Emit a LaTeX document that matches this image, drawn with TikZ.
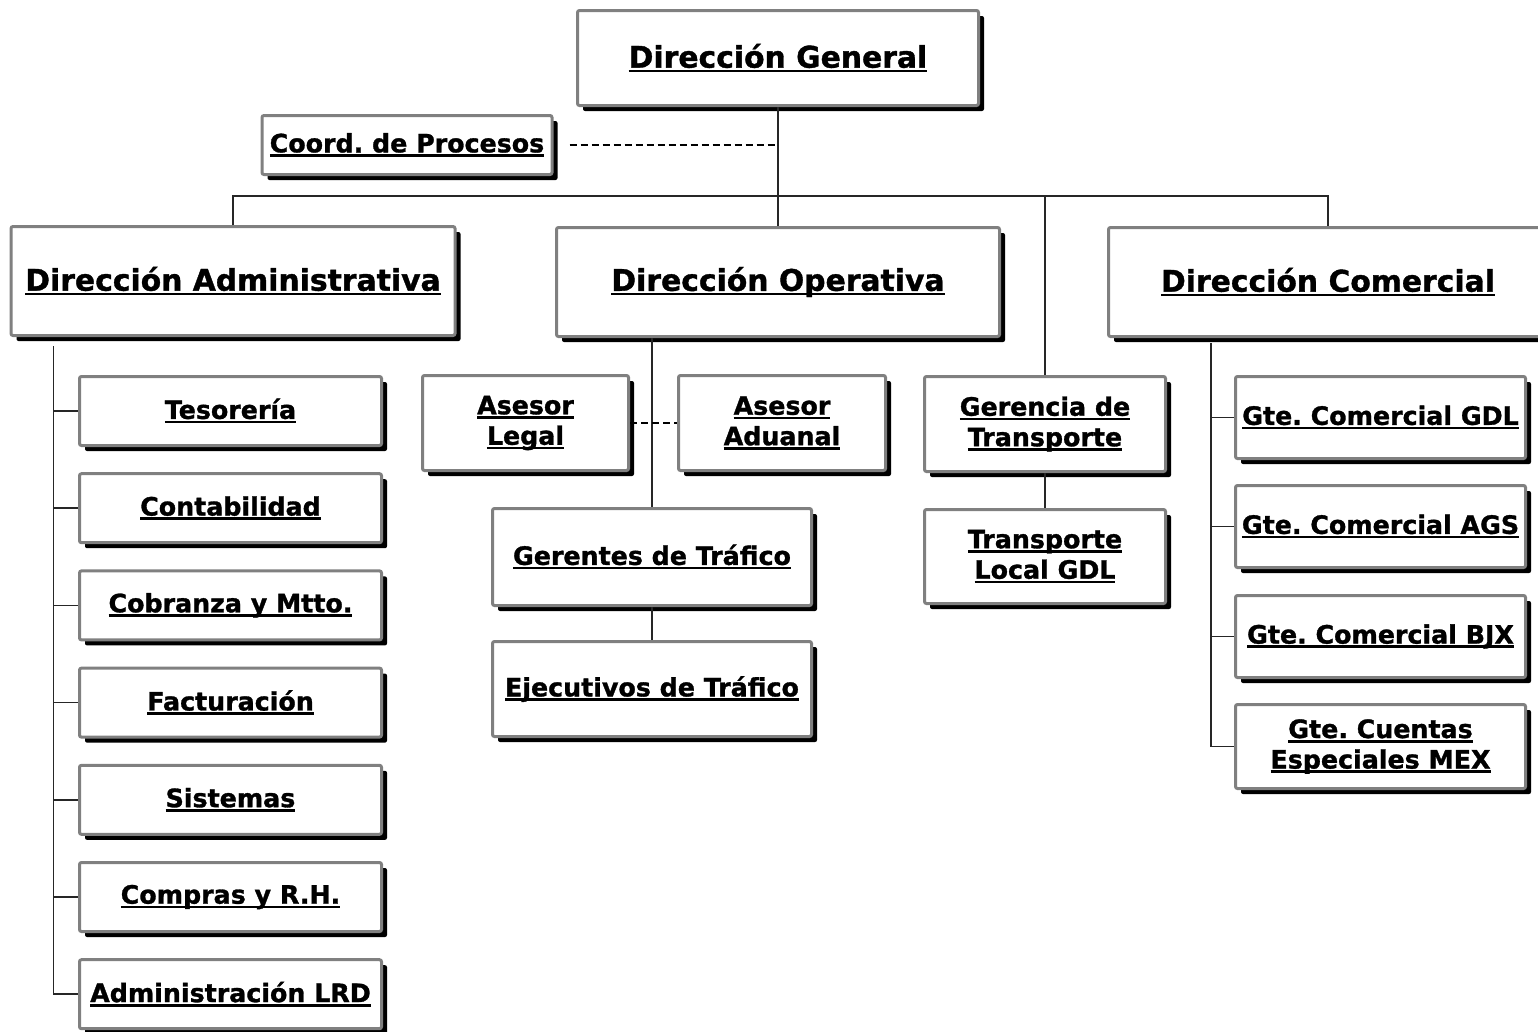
\documentclass[tikz,border=0pt]{standalone}
\usepackage{fontspec}
\setmainfont{DejaVu Sans}[BoldFeatures={FakeBold=1.2}]
\usetikzlibrary{shadows,positioning}

\definecolor{borde}{RGB}{128,128,128}
\newcommand{\rayado}[1]{\setbox0\hbox{#1}\rlap{\rule[-4.5pt]{\wd0}{2.6pt}}\box0}

\tikzset{
  caja/.style={draw=borde, line width=3pt, fill=white, rounded corners=2pt,
    align=center, inner sep=0pt, font=\bfseries\fontsize{25.3}{30.5}\selectfont,
    drop shadow={shadow xshift=5.5pt, shadow yshift=-5.5pt, fill=black, opacity=1}},
  grande/.style={caja, font=\bfseries\fontsize{29.8}{35}\selectfont},
  linea/.style={draw=black!85, line width=1.5pt},
  guion/.style={draw=black, line width=2pt, dash pattern=on 7pt off 4pt}
}

\begin{document}
\frenchspacing
\begin{tikzpicture}[x=1pt, y=-1pt]
  \useasboundingbox (0,0) rectangle (1538,1031);

  \node[grande, minimum width=401pt, minimum height=95pt] (DG) at (778,58) {\rayado{Dirección General}};
  \node[caja, minimum width=290pt, minimum height=59pt] (CP) at (407,145) {\rayado{Coord. de Procesos}};

  \node[grande, minimum width=444pt, minimum height=109pt] (DA) at (233,281) {\rayado{Dirección Administrativa}};
  \node[grande, minimum width=443pt, minimum height=109pt] (DO) at (778,282) {\rayado{Dirección Operativa}};
  \node[grande, minimum width=439pt, minimum height=109pt] (DC) at (1328,282) {\rayado{Dirección Comercial}};

  % administracion
  \foreach \t [count=\i] in {Tesorería, Contabilidad, Cobranza y Mtto., Facturación, Sistemas, Compras y R.H., Administración LRD} {
    \pgfmathsetmacro{\yy}{411+(\i-1)*97.2}
    \node[caja, minimum width=302pt, minimum height=69pt] (A\i) at (230.5,\yy) {\rayado{\t}};
  }

  % operativa
  \node[caja, minimum width=206pt, minimum height=95pt] (AL) at (525.5,423) {\rayado{Asesor}\\\rayado{Legal}};
  \node[caja, minimum width=207pt, minimum height=95pt] (AA) at (782,423) {\rayado{Asesor}\\\rayado{Aduanal}};
  \node[caja, minimum width=319pt, minimum height=97pt] (GR) at (652,557) {\rayado{Gerentes de Tráfico}};
  \node[caja, minimum width=319pt, minimum height=95pt] (EJ) at (652,689) {\rayado{Ejecutivos de Tráfico}};
  \node[caja, minimum width=241pt, minimum height=95pt] (GT) at (1045,424) {\rayado{Gerencia de}\\\rayado{Transporte}};
  \node[caja, minimum width=241pt, minimum height=94pt] (TL) at (1045,556.5) {\rayado{Transporte}\\\rayado{Local GDL}};

  % comercial
  \node[caja, minimum width=290pt, minimum height=82pt] (C1) at (1380.5,417.5) {\rayado{Gte. Comercial GDL}};
  \node[caja, minimum width=290pt, minimum height=82pt] (C2) at (1380.5,526.5) {\rayado{Gte. Comercial AGS}};
  \node[caja, minimum width=290pt, minimum height=82pt] (C3) at (1380.5,636.5) {\rayado{Gte. Comercial BJX}};
  \node[caja, minimum width=290pt, minimum height=84pt] (C4) at (1380.5,746.5) {\rayado{Gte. Cuentas}\\\rayado{Especiales MEX}};

  \coordinate (B) at (778,196);
  \coordinate (A0) at ([xshift=44pt, yshift=-9pt]DA.south west);
  \coordinate (C0) at ([xshift=104pt, yshift=-5pt]DC.south west);

  \draw[linea] (DG.south) -- (DO.north);
  \draw[linea] (DA.north) -- (DA.north |- B) -- (DC.north |- B) -- (DC.north);
  \draw[linea] (GT.north |- B) -- (GT.north);
  \draw[guion] ([xshift=16pt]CP.east) -- (DG.south |- CP.east);

  \draw[linea] (A0) |- (A7.west);
  \foreach \i in {1,...,6} \draw[linea] (A0 |- A\i.west) -- (A\i.west);

  \draw[linea] (GR.north |- DO.south) -- (GR.north);
  \draw[guion] (AL.east) -- (AA.west);
  \draw[linea] (GR.south) -- (EJ.north);
  \draw[linea] (GT.south) -- (TL.north);

  \draw[linea] (C0) |- (C4.west);
  \foreach \i in {1,2,3} \draw[linea] (C0 |- C\i.west) -- (C\i.west);
\end{tikzpicture}
\end{document}
